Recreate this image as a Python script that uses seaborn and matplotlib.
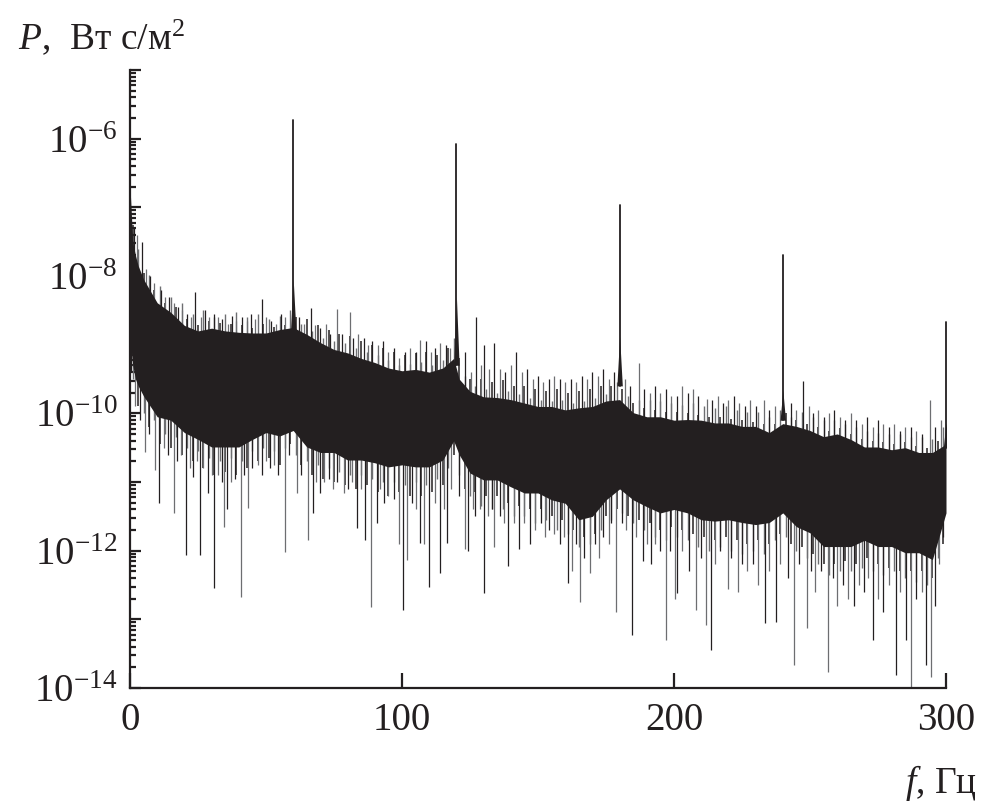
import numpy as np
import pandas as pd
import matplotlib
matplotlib.use('Agg')
import matplotlib.pyplot as plt
import matplotlib.ticker as mticker
import seaborn as sns

# --- dados (log10 P) ---
# envelope da faixa densa de ruido
env_f = [0, 1, 2, 3, 5, 10, 15, 20, 25, 30, 35, 40, 45, 50, 55, 60, 65, 70, 75, 80,
         85, 90, 95, 100, 105, 110, 115, 119, 121, 125, 130, 135, 140, 145, 150, 155,
         160, 165, 170, 175, 180, 185, 190, 195, 200, 205, 210, 215, 220, 225, 230,
         235, 240, 245, 250, 255, 260, 265, 270, 275, 280, 285, 290, 295, 300]
band_top = [-6.7, -7.5, -7.7, -7.85, -8.05, -8.39, -8.53, -8.72, -8.80, -8.76, -8.80,
            -8.82, -8.83, -8.83, -8.78, -8.75, -8.85, -8.97, -9.07, -9.12, -9.20, -9.26,
            -9.34, -9.38, -9.36, -9.40, -9.34, -9.20, -9.50, -9.68, -9.76, -9.77, -9.80,
            -9.85, -9.90, -9.90, -9.95, -9.92, -9.90, -9.82, -9.80, -9.99, -10.05, -10.05,
            -10.10, -10.09, -10.10, -10.14, -10.14, -10.19, -10.19, -10.28, -10.15, -10.19,
            -10.25, -10.34, -10.30, -10.38, -10.49, -10.49, -10.53, -10.50, -10.57, -10.57,
            -10.45]
band_bot = [-8.9, -9.3, -9.5, -9.6, -9.75, -10.05, -10.1, -10.28, -10.38, -10.49, -10.49,
            -10.49, -10.38, -10.28, -10.33, -10.25, -10.49, -10.57, -10.57, -10.68, -10.68,
            -10.72, -10.78, -10.75, -10.78, -10.78, -10.68, -10.4, -10.6, -10.87, -10.97,
            -10.97, -11.07, -11.16, -11.16, -11.26, -11.31, -11.55, -11.50, -11.26, -11.1,
            -11.26, -11.36, -11.45, -11.40, -11.45, -11.55, -11.57, -11.55, -11.59, -11.62,
            -11.59, -11.45, -11.65, -11.74, -11.94, -11.94, -11.94, -11.85, -11.94, -11.94,
            -12.03, -12.03, -12.13, -11.45]

# borda serrilhada da faixa (f, topo, fundo)
fringe = [
    (1, -7.25, -9.5), (3, -7.6, -9.9), (5, -7.95, -10.0), (7, -7.98, -10.2), (9, -8.2, -10.1),
    (11, -8.15, -10.45), (13, -8.4, -10.3), (15, -8.3, -10.5), (17, -8.45, -10.35), (19, -8.4, -10.6),
    (21, -8.62, -10.5), (23, -8.55, -10.7), (25, -8.72, -10.55), (27, -8.5, -10.8), (29, -8.65, -10.65),
    (31, -8.6, -10.9), (33, -8.68, -10.7), (35, -8.55, -10.85), (37, -8.7, -10.65), (39, -8.52, -10.9),
    (41, -8.72, -10.7), (43, -8.6, -10.8), (45, -8.75, -10.55), (47, -8.55, -10.7), (49, -8.7, -10.5),
    (51, -8.62, -10.65), (53, -8.74, -10.55), (55, -8.58, -10.75), (57, -8.72, -10.5), (59, -8.5, -10.45),
    (61, -8.6, -10.6), (63, -8.7, -10.75), (65, -8.62, -10.7), (67, -8.8, -10.9), (69, -8.72, -10.75),
    (71, -8.9, -10.95), (73, -8.78, -10.8), (75, -8.95, -11.0), (77, -8.85, -10.85), (79, -8.98, -11.05),
    (81, -8.88, -10.9), (83, -9.05, -11.1), (85, -8.95, -10.9), (87, -9.1, -11.05), (89, -9.0, -10.95),
    (91, -9.15, -11.15), (93, -9.05, -11.0), (95, -9.22, -11.2), (97, -9.1, -11.0), (99, -9.3, -11.15),
    (101, -9.15, -11.05), (103, -9.28, -11.2), (105, -9.12, -11.0), (107, -9.25, -11.2), (109, -9.1, -11.05),
    (111, -9.3, -11.15), (113, -9.15, -10.95), (115, -9.22, -11.05), (117, -9.05, -10.8), (119, -8.9, -10.6),
    (121, -9.2, -10.9), (123, -9.45, -11.1), (125, -9.5, -11.2), (127, -9.6, -11.15), (129, -9.5, -11.35),
    (131, -9.65, -11.2), (133, -9.55, -11.4), (135, -9.7, -11.2), (137, -9.52, -11.4), (139, -9.68, -11.3),
    (141, -9.6, -11.5), (143, -9.72, -11.35), (145, -9.6, -11.5), (147, -9.78, -11.4), (149, -9.65, -11.6),
    (151, -9.8, -11.4), (153, -9.68, -11.55), (155, -9.82, -11.5), (157, -9.65, -11.7), (159, -9.8, -11.55),
    (161, -9.7, -11.75), (163, -9.85, -11.7), (165, -9.68, -11.95), (167, -9.82, -11.8), (169, -9.65, -11.9),
    (171, -9.78, -11.75), (173, -9.6, -11.7), (175, -9.72, -11.5), (177, -9.6, -11.55), (179, -9.55, -11.4),
    (181, -9.65, -11.45), (183, -9.75, -11.5), (185, -9.85, -11.6), (187, -9.8, -11.55), (189, -9.92, -11.7),
    (191, -9.8, -11.6), (193, -9.95, -11.8), (195, -9.82, -11.7), (197, -9.98, -11.85), (199, -9.85, -11.65),
    (201, -9.98, -11.8), (203, -9.88, -11.7), (205, -10.0, -11.85), (207, -9.85, -11.75), (209, -10.02, -11.95),
    (211, -9.9, -11.8), (213, -10.05, -12.0), (215, -9.92, -11.85), (217, -10.05, -11.95), (219, -9.9, -11.8),
    (221, -10.08, -12.0), (223, -9.95, -11.85), (225, -10.1, -12.05), (227, -9.98, -11.9), (229, -10.12, -12.0),
    (231, -9.98, -11.85), (233, -10.15, -12.05), (235, -10.05, -11.9), (237, -10.15, -11.85), (239, -9.95, -11.75),
    (241, -10.0, -11.8), (243, -10.05, -11.9), (245, -10.1, -12.0), (247, -9.98, -11.95), (249, -10.15, -12.1),
    (251, -10.05, -12.05), (253, -10.2, -12.2), (255, -10.1, -12.2), (257, -10.25, -12.35), (259, -10.1, -12.2),
    (261, -10.22, -12.3), (263, -10.15, -12.15), (265, -10.3, -12.3), (267, -10.2, -12.2), (269, -10.38, -12.25),
    (271, -10.25, -12.1), (273, -10.4, -12.3), (275, -10.28, -12.2), (277, -10.42, -12.35), (279, -10.3, -12.25),
    (281, -10.45, -12.3), (283, -10.3, -12.3), (285, -10.42, -12.4), (287, -10.35, -12.3), (289, -10.48, -12.45),
    (291, -10.35, -12.3), (293, -10.5, -12.5), (295, -10.38, -12.4), (297, -10.4, -12.1), (299, -10.2, -11.9),
]

# picos acima da faixa (f, log10 P)
up_spikes = [
    (1.5, -7.3), (2.5, -7.4), (4.3, -7.51), (6, -7.9), (7.5, -8.0), (9, -8.1),
    (11.5, -8.2), (13, -8.3), (14.5, -8.3), (16, -8.4), (17.5, -8.45), (19, -8.5),
    (21, -8.55), (22.5, -8.6), (24, -8.23), (26, -8.6), (27.5, -8.5), (29, -8.6),
    (31, -8.55), (32.5, -8.6), (34, -8.62), (36, -8.7), (37.5, -8.58), (39, -8.65),
    (41, -8.6), (43, -8.65), (44.5, -8.55), (46, -8.62), (48.5, -8.34), (50, -8.6),
    (52, -8.65), (53.5, -8.7), (55.5, -8.55), (57, -8.6), (62, -8.6), (64, -8.7),
    (66.7, -8.46), (68, -8.72), (70, -8.75), (72, -8.7), (73.5, -8.85), (76, -8.48),
    (78, -8.85), (80.7, -8.53), (82, -8.9), (84, -8.85), (86, -8.9), (87.5, -9.0),
    (89, -8.95), (91, -9.0), (93, -8.95), (95, -9.1), (97, -9.05), (99, -9.2),
    (101, -9.1), (103, -9.05), (105, -9.1), (106.7, -8.93), (108.7, -8.95), (110.5, -9.1),
    (112, -9.05), (114, -8.97), (116, -9.0), (117.5, -9.05), (123, -9.1), (125.5, -9.4),
    (127.3, -8.60), (129, -9.3), (130, -9.0), (132, -9.35), (134, -8.98), (136, -9.35),
    (138, -9.4), (140, -9.3), (141.8, -9.1), (144, -9.4), (146, -9.35), (148, -9.5),
    (150, -9.45), (152, -9.55), (154, -9.5), (156, -9.45), (158, -9.5), (160, -9.55),
    (162, -9.5), (164, -9.55), (166, -9.45), (168, -9.5), (170, -9.4), (172, -9.45),
    (174, -9.35), (176, -9.5), (178, -9.4), (182, -9.5), (184, -9.6), (187.3, -9.26),
    (189, -9.65), (191, -9.7), (193, -9.6), (195, -9.7), (197, -9.65), (199, -9.75),
    (201, -9.75), (203, -9.6), (205, -9.7), (207, -9.65), (209, -9.75), (212, -9.79),
    (214, -9.8), (216, -9.75), (218, -9.85), (220, -9.8), (222, -9.75), (224, -9.85),
    (226, -9.9), (228, -9.8), (230, -9.9), (233, -9.8), (235, -9.95), (237, -9.9),
    (243, -9.85), (245, -9.95), (247.6, -9.53), (249.5, -9.9), (251, -10.0), (253, -9.95),
    (255, -10.05), (257, -10.0), (259, -9.95), (261, -10.05), (263, -10.1), (265, -10.0),
    (267, -10.1), (269, -10.15), (271, -10.05), (273, -10.2), (275, -10.1), (277, -10.15),
    (279, -10.2), (281, -10.15), (283, -10.25), (285, -10.2), (287, -10.2), (289, -10.25),
    (291, -10.3), (294.2, -9.80), (296, -10.2), (298, -10.1),
]

# quedas abaixo da faixa (f, log10 P)
down_spikes = [
    (0.5, -9.4), (2, -9.9), (3.5, -10.1), (5.5, -10.56), (7, -10.3), (9.2, -10.82),
    (10.8, -11.30), (12.5, -10.5), (14, -10.6), (16, -11.45), (17.3, -10.7), (18.6, -10.6),
    (20.5, -12.06), (22, -10.8), (23, -10.92), (24.5, -10.7), (25.8, -12.06), (27, -10.8),
    (28.5, -11.16), (30, -10.9), (30.9, -12.54), (32.5, -10.9), (34, -11.0), (34.7, -11.65),
    (35.6, -11.4), (37, -11.0), (38.5, -10.95), (40.8, -12.67), (42, -10.9), (43.5, -11.38),
    (45, -10.8), (47, -10.75), (48.5, -10.9), (50, -10.7), (51.5, -10.8), (53, -10.75),
    (54.5, -10.9), (57, -12.02), (58.5, -10.6), (61.4, -11.16), (63, -10.9), (65.6, -11.84),
    (67.2, -11.45), (68.5, -11.0), (69.9, -11.16), (71.5, -11.0), (73, -10.95), (74.5, -11.1),
    (76, -11.0), (78.5, -11.16), (80, -11.1), (81.5, -11.0), (83.4, -11.67), (85, -11.1),
    (86.5, -11.84), (88.6, -12.82), (90.8, -11.6), (92, -11.1), (93.2, -11.3), (95, -11.2),
    (97, -11.25), (99, -11.9), (100.4, -12.86), (102, -12.13), (103.5, -11.3), (105, -11.4),
    (106.5, -11.89), (108, -11.9), (110, -12.53), (112, -11.3), (114, -12.32), (115.5, -11.4),
    (116.5, -11.89), (118, -11.1), (121, -11.2), (123, -11.97), (124.4, -12.0), (126, -11.4),
    (127, -11.5), (128.5, -11.4), (130, -12.62), (131.5, -11.5), (133, -11.4), (134, -11.94),
    (136, -11.5), (137.5, -11.6), (139, -12.23), (141, -11.6), (143, -11.97), (145, -11.6),
    (147, -11.9), (149, -11.7), (151, -11.6), (152.5, -11.8), (154, -11.7), (156, -11.75),
    (158, -11.9), (159.5, -11.8), (161, -12.47), (162.5, -12.3), (164, -11.9), (165.3, -12.75),
    (167, -12.1), (169, -12.32), (171, -11.9), (172.5, -12.1), (174, -11.8), (176, -11.9),
    (177, -11.6), (178.7, -12.89), (181, -11.6), (182.5, -11.7), (184.4, -13.23), (186, -11.8),
    (188.7, -12.15), (190, -11.9), (191.5, -12.2), (193, -11.9), (195, -12.0), (197.2, -13.30),
    (198.5, -12.0), (200.5, -12.7), (201.2, -12.62), (203, -12.0), (205.5, -12.3), (208, -12.86),
    (210, -12.1), (211.6, -13.08), (213.5, -13.45), (215, -12.2), (217, -12.0), (219.7, -12.56),
    (221, -12.1), (223.5, -12.6), (225, -12.2), (227, -12.3), (229, -12.2), (231, -12.5),
    (233.3, -13.06), (235, -12.3), (237.4, -13.04), (239, -12.2), (242, -12.4), (244.1, -13.66),
    (246, -12.2), (248.8, -13.12), (250.5, -12.3), (252, -12.6), (254, -12.3), (256.8, -13.77),
    (258.5, -12.4), (260, -12.8), (262, -12.5), (264, -12.7), (266, -12.8), (268, -12.5),
    (270, -12.6), (271.5, -12.4), (273, -13.30), (275, -12.7), (277, -12.9), (279, -12.5),
    (281.6, -13.81), (283, -12.6), (285.3, -13.3), (287.1, -14.3), (289, -12.7), (291, -12.6),
    (292.8, -13.66), (294.4, -13.84), (296, -12.8), (297.5, -12.2), (299, -11.8),
]

# harmonicas (f, topo, ombro, base)
peak_f = [0, 60, 120, 180, 240, 300]
peak_top = [-6.35, -5.73, -6.08, -6.97, -7.69, -8.67]
peak_shoulder = [-7.0, -8.05, -8.3, -8.88, -9.66, -10.14]
peak_base = [-8.0, -8.8, -9.3, -9.6, -10.1, -10.5]

COR = '#231f20'
CINZA = '#6d6e71'

sns.set_style('ticks')
plt.rcParams['font.family'] = ['Liberation Serif', 'DejaVu Serif']
plt.rcParams['mathtext.fontset'] = 'custom'
plt.rcParams['mathtext.rm'] = 'Liberation Serif'
plt.rcParams['mathtext.it'] = 'Liberation Serif:italic'

fig = plt.figure(figsize=(9.82, 8.07), dpi=100)
ax = fig.add_axes([130 / 982, 1 - 688 / 807, 816 / 982, 618 / 807])

env_f = np.array(env_f)
top = np.array(band_top)
bot = np.array(band_bot)
mid = (top + bot) / 2

# faixa densa (por cima dos tracos verticais)
ax.fill_between(env_f, 10 ** bot, 10 ** top, color=COR, lw=0, zorder=3)


def tracos(x, y, cor, lw=0.9):
    ax.vlines(x, 10 ** y, 10 ** np.interp(x, env_f, mid), color=cor, lw=lw, zorder=2)


fr_f, fr_t, fr_b = np.array(fringe).T
tracos(fr_f[::2], fr_t[::2], COR, 1.1)
tracos(fr_f[1::2], fr_t[1::2], CINZA, 1.0)
tracos(fr_f[1::2], fr_b[1::2], COR, 1.1)
tracos(fr_f[::2], fr_b[::2], CINZA, 1.0)

uf, uv = np.array(up_spikes).T
dfq, dv = np.array(down_spikes).T
tracos(uf[::2], uv[::2], COR)
tracos(uf[1::2], uv[1::2], CINZA)
tracos(dfq[::2], dv[::2], COR)
tracos(dfq[1::2], dv[1::2], CINZA)

# harmonicas: base alargada + linha fina
for f0, sh, b in zip(peak_f, peak_shoulder, peak_base):
    w = 1.0
    ax.fill_between([f0 - w, f0, f0 + w], [10 ** b] * 3, [10 ** b, 10 ** sh, 10 ** b],
                    color=COR, lw=0, zorder=4)
rows = []
for i, (f0, t, b) in enumerate(zip(peak_f, peak_top, peak_base)):
    rows.append({'f': f0, 'P': 10 ** b, 'pico': i})
    rows.append({'f': f0, 'P': 10 ** t, 'pico': i})
df = pd.DataFrame(rows)
sns.lineplot(data=df, x='f', y='P', units='pico', estimator=None, color=COR, lw=1.3,
             ax=ax, legend=False, zorder=5)
for ln in ax.lines:
    ln.set_clip_on(False)

ax.set_yscale('log')
ax.set_ylim(1e-14, 1e-5)
ax.set_xlim(0, 300)
ax.set_xticks([0, 100, 200, 300])
ax.yaxis.set_major_locator(mticker.LogLocator(base=10, numticks=20))
ax.yaxis.set_minor_locator(mticker.LogLocator(base=10, subs=np.arange(2, 10), numticks=20))
ax.yaxis.set_minor_formatter(mticker.NullFormatter())


def rotulo(v, pos):
    e = int(round(np.log10(v)))
    return rf'$10^{{{e}}}$' if e % 2 == 0 else ''


ax.yaxis.set_major_formatter(mticker.FuncFormatter(rotulo))
ax.set_xlabel('')
ax.set_ylabel('')

sns.despine(ax=ax)
for s in ['left', 'bottom']:
    ax.spines[s].set_linewidth(1.6)
    ax.spines[s].set_color(COR)
    ax.spines[s].set_zorder(6)
ax.tick_params(axis='both', which='both', direction='in', colors=COR, labelsize=28,
               width=1.6, labelcolor=COR)
ax.tick_params(axis='y', which='major', length=8, pad=9)
ax.tick_params(axis='y', which='minor', length=4.5)
ax.tick_params(axis='x', which='major', length=11, pad=10)

fig.text(18 / 982, 1 - 49 / 807, r'$P$,  Вт с/м$^2$', fontsize=27, color=COR, va='baseline')
fig.text(977 / 982, 1 - 793 / 807, r'$f$, Гц', fontsize=27, color=COR, va='baseline', ha='right')

fig.savefig('out.png', dpi=100)
